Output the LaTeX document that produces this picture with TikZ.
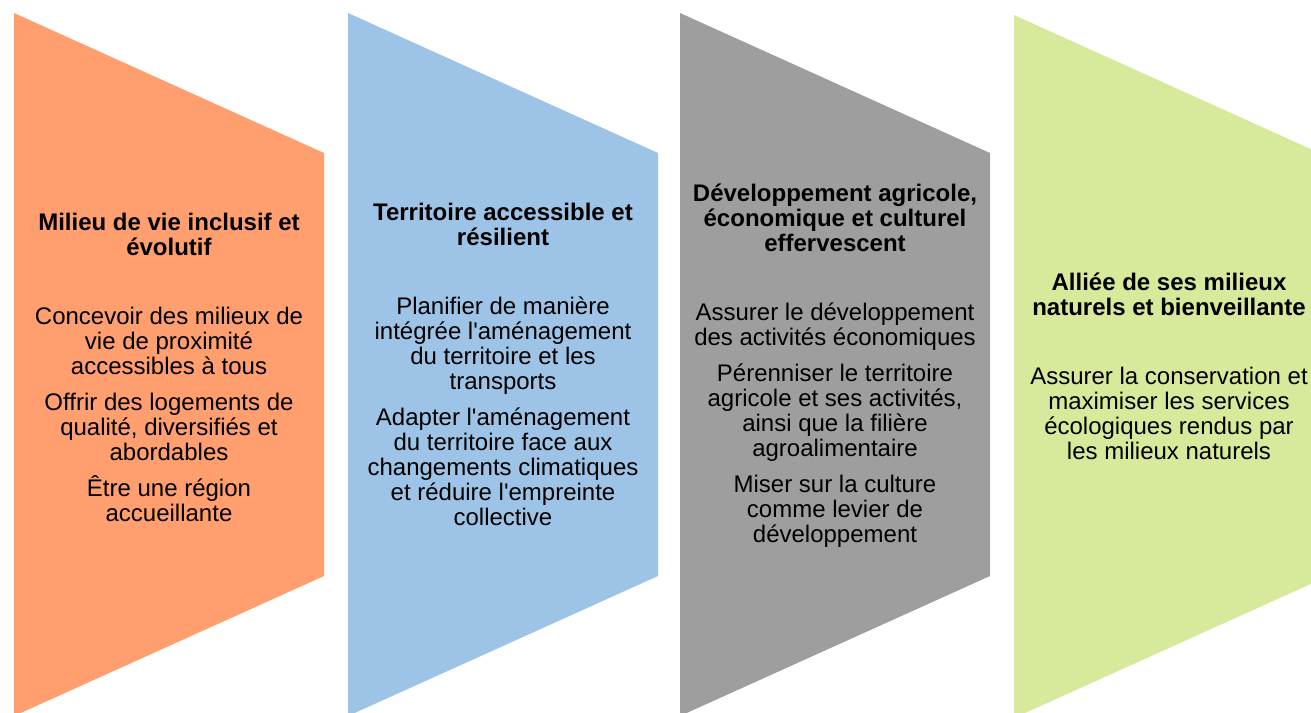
\documentclass[tikz,border=0pt]{standalone}
\usepackage{fontspec}
\setmainfont{Liberation Sans}
\newcommand\sq{\XeTeXglyph\XeTeXcharglyph"0027\relax}
\definecolor{corange}{RGB}{255,158,110}
\definecolor{cblue}{RGB}{157,195,230}
\definecolor{cgray}{RGB}{158,158,158}
\definecolor{cgreen}{RGB}{215,233,155}
\tikzset{
  chev/.style={fill=#1, draw=none},
  txt/.style={align=center, font=\fontsize{24}{25}\selectfont, inner sep=0pt, text=black},
}
\newcommand\ttl[1]{\textbf{#1}}
\begin{document}
\begin{tikzpicture}[x=1pt,y=-1pt]
\useasboundingbox (0,0) rectangle (1311,712);
\begin{scope}
\clip (0,0) rectangle (1311,712);
\fill[chev=corange] (14,13) -- (324,153) -- (324,576) -- (14,716) -- cycle;
\fill[chev=cblue] (348,13) -- (658,153) -- (658,576) -- (348,716) -- cycle;
\fill[chev=cgray] (680,13) -- (990,153) -- (990,576) -- (680,716) -- cycle;
\fill[chev=cgreen] (1014,15) -- (1324,155) -- (1324,578) -- (1014,718) -- cycle;
\end{scope}
\node[txt] (t1) at (169,367) {\ttl{Milieu de vie inclusif et}\\\ttl{évolutif}\\[44pt]
Concevoir des milieux de\\vie de proximité\\accessibles à tous\\[11pt]
Offrir des logements de\\qualité, diversifiés et\\abordables\\[11pt]
Être une région\\accueillante};
\node[txt] (t2) at (503,364) {\ttl{Territoire accessible et}\\\ttl{résilient}\\[44pt]
Planifier de manière\\intégrée l\sq aménagement\\du territoire et les\\transports\\[11pt]
Adapter l\sq aménagement\\du territoire face aux\\changements climatiques\\et réduire l\sq empreinte\\collective};
\node[txt] (t3) at (835,366) {\ttl{Développement agricole,}\\\ttl{économique et culturel}\\\ttl{effervescent}\\[44pt]
Assurer le développement\\des activités économiques\\[11pt]
Pérenniser le territoire\\agricole et ses activités,\\ainsi que la filière\\agroalimentaire\\[11pt]
Miser sur la culture\\comme levier de\\développement};
\node[txt] (t4) at (1169,366) {\ttl{Alliée de ses milieux}\\\ttl{naturels et bienveillante}\\[44pt]
Assurer la conservation et\\maximiser les services\\écologiques rendus par\\les milieux naturels};
\end{tikzpicture}
\end{document}
